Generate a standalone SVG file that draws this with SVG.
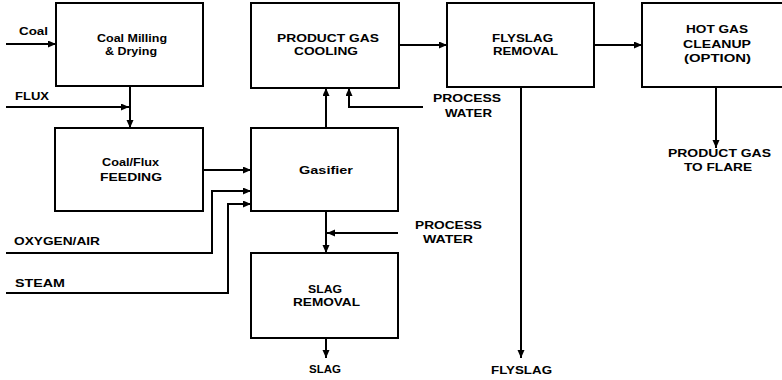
<svg xmlns="http://www.w3.org/2000/svg" width="782" height="380" viewBox="0 0 782 380">
<style>
.box{fill:#fff;stroke:#000;stroke-width:2}
.ln{fill:none;stroke:#000;stroke-width:2}
.ar{marker-end:url(#ah)}
text{font-family:"Liberation Sans",Arial,sans-serif;font-weight:bold;font-size:10px;fill:#000}
</style>
<defs>
<marker id="ah" markerUnits="userSpaceOnUse" markerWidth="9" markerHeight="8" refX="8" refY="3.5" orient="auto">
<path d="M0,0 L8,3.5 L0,7 z" fill="#000"/>
</marker>
</defs>
<rect width="782" height="380" fill="#fff"/>
<g id="connectors">
<path class="ln ar" d="M6,44 H56"/>
<path class="ln ar" d="M130,86 V128"/>
<path class="ln ar" d="M6,107 H129"/>
<path class="ln ar" d="M203,170 H251"/>
<path class="ln ar" d="M6,253 H212 V191 H251"/>
<path class="ln ar" d="M6,293 H228 V204 H251"/>
<path class="ln ar" d="M326,128 V88"/>
<path class="ln ar" d="M423,107 H349 V88"/>
<path class="ln ar" d="M399,45 H447"/>
<path class="ln ar" d="M521,87 V358"/>
<path class="ln ar" d="M594,45 H642"/>
<path class="ln ar" d="M716,87 V148"/>
<path class="ln ar" d="M326,211 V253"/>
<path class="ln ar" d="M398,233 H327"/>
<path class="ln ar" d="M326,338 V358"/>
</g>
<g id="coal-milling">
<rect class="box" x="56" y="3" width="147" height="83"/>
<text x="97" y="42" textLength="70" lengthAdjust="spacingAndGlyphs">Coal Milling</text>
<text x="105" y="55" textLength="52" lengthAdjust="spacingAndGlyphs">&amp; Drying</text>
</g>
<g id="coal-flux-feeding">
<rect class="box" x="55" y="128" width="148" height="83"/>
<text x="102" y="166" textLength="57" lengthAdjust="spacingAndGlyphs">Coal/Flux</text>
<text x="100" y="181" textLength="62" lengthAdjust="spacingAndGlyphs">FEEDING</text>
</g>
<g id="gasifier">
<rect class="box" x="251" y="128" width="147" height="83"/>
<text x="299" y="174" textLength="54" lengthAdjust="spacingAndGlyphs">Gasifier</text>
</g>
<g id="product-gas-cooling">
<rect class="box" x="251" y="3" width="148" height="85"/>
<text x="277" y="42" textLength="102" lengthAdjust="spacingAndGlyphs">PRODUCT GAS</text>
<text x="294" y="55" textLength="64" lengthAdjust="spacingAndGlyphs">COOLING</text>
</g>
<g id="slag-removal">
<rect class="box" x="251" y="253" width="147" height="85"/>
<text x="308" y="293" textLength="34" lengthAdjust="spacingAndGlyphs">SLAG</text>
<text x="293" y="306" textLength="67" lengthAdjust="spacingAndGlyphs">REMOVAL</text>
</g>
<g id="flyslag-removal">
<rect class="box" x="447" y="3" width="147" height="84"/>
<text x="492" y="42" textLength="61" lengthAdjust="spacingAndGlyphs">FLYSLAG</text>
<text x="493" y="55" textLength="65" lengthAdjust="spacingAndGlyphs">REMOVAL</text>
</g>
<g id="hot-gas-cleanup">
<rect class="box" x="642" y="3" width="150" height="84"/>
<text x="686" y="33" textLength="62" lengthAdjust="spacingAndGlyphs">HOT GAS</text>
<text x="683" y="48" textLength="68" lengthAdjust="spacingAndGlyphs">CLEANUP</text>
<text x="684" y="62" textLength="67" lengthAdjust="spacingAndGlyphs">(OPTION)</text>
</g>
<g id="labels">
<text x="19" y="35" textLength="29" lengthAdjust="spacingAndGlyphs">Coal</text>
<text x="15" y="100" textLength="34" lengthAdjust="spacingAndGlyphs">FLUX</text>
<text x="14" y="245" textLength="86" lengthAdjust="spacingAndGlyphs">OXYGEN/AIR</text>
<text x="15" y="287" textLength="50" lengthAdjust="spacingAndGlyphs">STEAM</text>
<text x="433" y="102" textLength="68" lengthAdjust="spacingAndGlyphs">PROCESS</text>
<text x="445" y="117" textLength="47" lengthAdjust="spacingAndGlyphs">WATER</text>
<text x="415" y="229" textLength="67" lengthAdjust="spacingAndGlyphs">PROCESS</text>
<text x="423" y="243" textLength="50" lengthAdjust="spacingAndGlyphs">WATER</text>
<text x="309" y="373" textLength="32" lengthAdjust="spacingAndGlyphs">SLAG</text>
<text x="491" y="374" textLength="61" lengthAdjust="spacingAndGlyphs">FLYSLAG</text>
<text x="668" y="157" textLength="103" lengthAdjust="spacingAndGlyphs">PRODUCT GAS</text>
<text x="684" y="171" textLength="68" lengthAdjust="spacingAndGlyphs">TO FLARE</text>
</g>
</svg>
